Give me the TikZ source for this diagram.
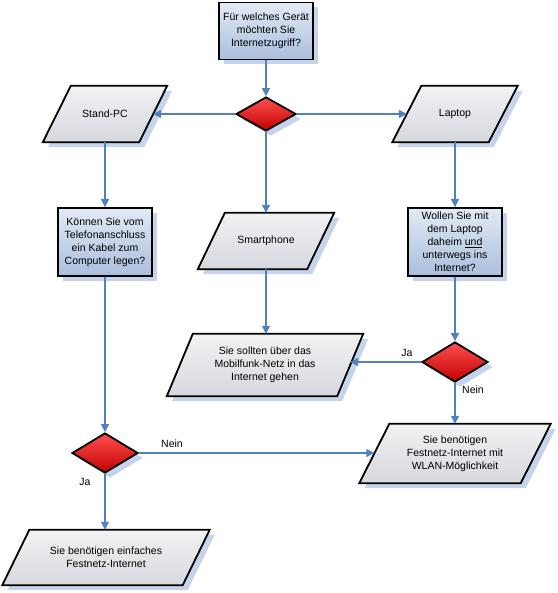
\documentclass[tikz,border=0pt]{standalone}
\usepackage{fontspec}
\setmainfont{Liberation Sans}
\usetikzlibrary{shapes.geometric,shadows,arrows.meta,backgrounds}
\definecolor{lineblue}{RGB}{79,129,189}
\definecolor{shad}{RGB}{198,212,235}
\definecolor{boxtop}{RGB}{226,234,245}
\definecolor{boxbot}{RGB}{170,190,220}
\definecolor{partop}{RGB}{242,242,244}
\definecolor{parbot}{RGB}{214,216,222}
\definecolor{dectop}{RGB}{255,80,80}
\definecolor{decbot}{RGB}{195,0,0}
\newcommand\parashape[2]{%
  \fill[shad] ([xshift=5pt-#2,yshift=-5pt]#1.south west) -- ([xshift=5pt-#2,yshift=-5pt]#1.south east)
     -- ([xshift=5pt+#2,yshift=-5pt]#1.north east) -- ([xshift=5pt+#2,yshift=-5pt]#1.north west) -- cycle;
  \path[parshape] ([xshift=-#2]#1.south west) -- ([xshift=-#2]#1.south east)
     -- ([xshift=#2]#1.north east) -- ([xshift=#2]#1.north west) -- cycle;}
\begin{document}
\begin{tikzpicture}[x=1pt,y=-1pt,
  font=\fontsize{10.5}{13}\selectfont,
  shadowed/.style={drop shadow={shadow xshift=5pt,shadow yshift=-5pt,fill=shad,opacity=1}},
  qbox/.style={rectangle,draw=black,line width=1.8pt,top color=boxtop,bottom color=boxbot,
    minimum width=94pt,align=center,inner sep=1pt,shadowed},
  dec/.style={diamond,draw=black,line width=1.8pt,top color=dectop,bottom color=decbot,
    inner sep=0pt,shadowed},
  ptext/.style={rectangle,align=center,inner sep=0pt},
  parshape/.style={draw=black,line width=1.8pt,top color=partop,bottom color=parbot},
  conn/.style={draw=lineblue,line width=1.4pt,-{Triangle[length=8pt,width=8pt]}},
  lbl/.style={inner sep=0pt}]
\useasboundingbox (0,0) rectangle (557,593);

% decisions / questions
\node[qbox,minimum height=57pt] (q1) at (266,31) {Für welches Gerät\\möchten Sie\\Internetzugriff?};
\node[dec,minimum width=60pt,minimum height=34pt] (d1) at (266,114) {};
\node[qbox,minimum height=68pt] (q2) at (105,242) {Können Sie vom\\Telefonanschluss\\ein Kabel zum\\Computer legen?};
\node[qbox,minimum height=68pt] (q3) at (455,242) {Wollen Sie mit\\dem Laptop\\daheim \underline{und}\\unterwegs ins\\Internet?};
\node[dec,minimum width=66pt,minimum height=40pt] (d2) at (455,362) {};
\node[dec,minimum width=66pt,minimum height=40pt] (d3) at (105,453) {};

% parallelogram text nodes
\node[ptext,minimum width=96pt,minimum height=56pt] (pc) at (105,114) {Stand-PC};
\node[ptext,minimum width=96pt,minimum height=56pt] (lap) at (455,114) {Laptop};
\node[ptext,minimum width=109pt,minimum height=56pt] (sm) at (266,241) {Smartphone};
\node[ptext,minimum width=170pt,minimum height=62pt] (mob) at (265,365) {Sie sollten über das\\Mobilfunk-Netz in das\\Internet gehen};
\node[ptext,minimum width=161pt,minimum height=59pt] (wlan) at (455,453.5) {Sie benötigen\\Festnetz-Internet mit\\WLAN-Möglichkeit};
\node[ptext,minimum width=180pt,minimum height=55pt] (bot) at (106,557.5) {Sie benötigen einfaches\\Festnetz-Internet};

\begin{pgfonlayer}{background}
  \parashape{pc}{14pt}
  \parashape{lap}{14.5pt}
  \parashape{sm}{13.5pt}
  \parashape{mob}{13pt}
  \parashape{wlan}{15pt}
  \parashape{bot}{13.5pt}
\end{pgfonlayer}

% connectors
\draw[conn] (q1.south) -- (d1.north);
\draw[conn] (d1.west) -- (pc.east);
\draw[conn] (d1.east) -- (lap.west);
\draw[conn] (d1.south) -- (d1.south |- sm.north);
\draw[conn] (pc.south) -- (pc.south |- q2.north);
\draw[conn] (lap.south) -- (lap.south |- q3.north);
\draw[conn] (q2.south) -- (d3.north);
\draw[conn] (sm.south) -- (sm.south |- mob.north);
\draw[conn] (q3.south) -- (d2.north);
\draw[conn] (d2.west) -- (d2.west -| mob.east);
\draw[conn] (d2.south) -- (d2.south |- wlan.north);
\draw[conn] (d3.east) -- (d3.east -| wlan.west);
\draw[conn] (d3.south) -- (d3.south |- bot.north);

% labels
\node[lbl] (ja1) at (407,353) {Ja};
\node[lbl] (nein1) at (473,390) {Nein};
\node[lbl] (nein2) at (172,444) {Nein};
\node[lbl] (ja2) at (85,482) {Ja};
\end{tikzpicture}
\end{document}
